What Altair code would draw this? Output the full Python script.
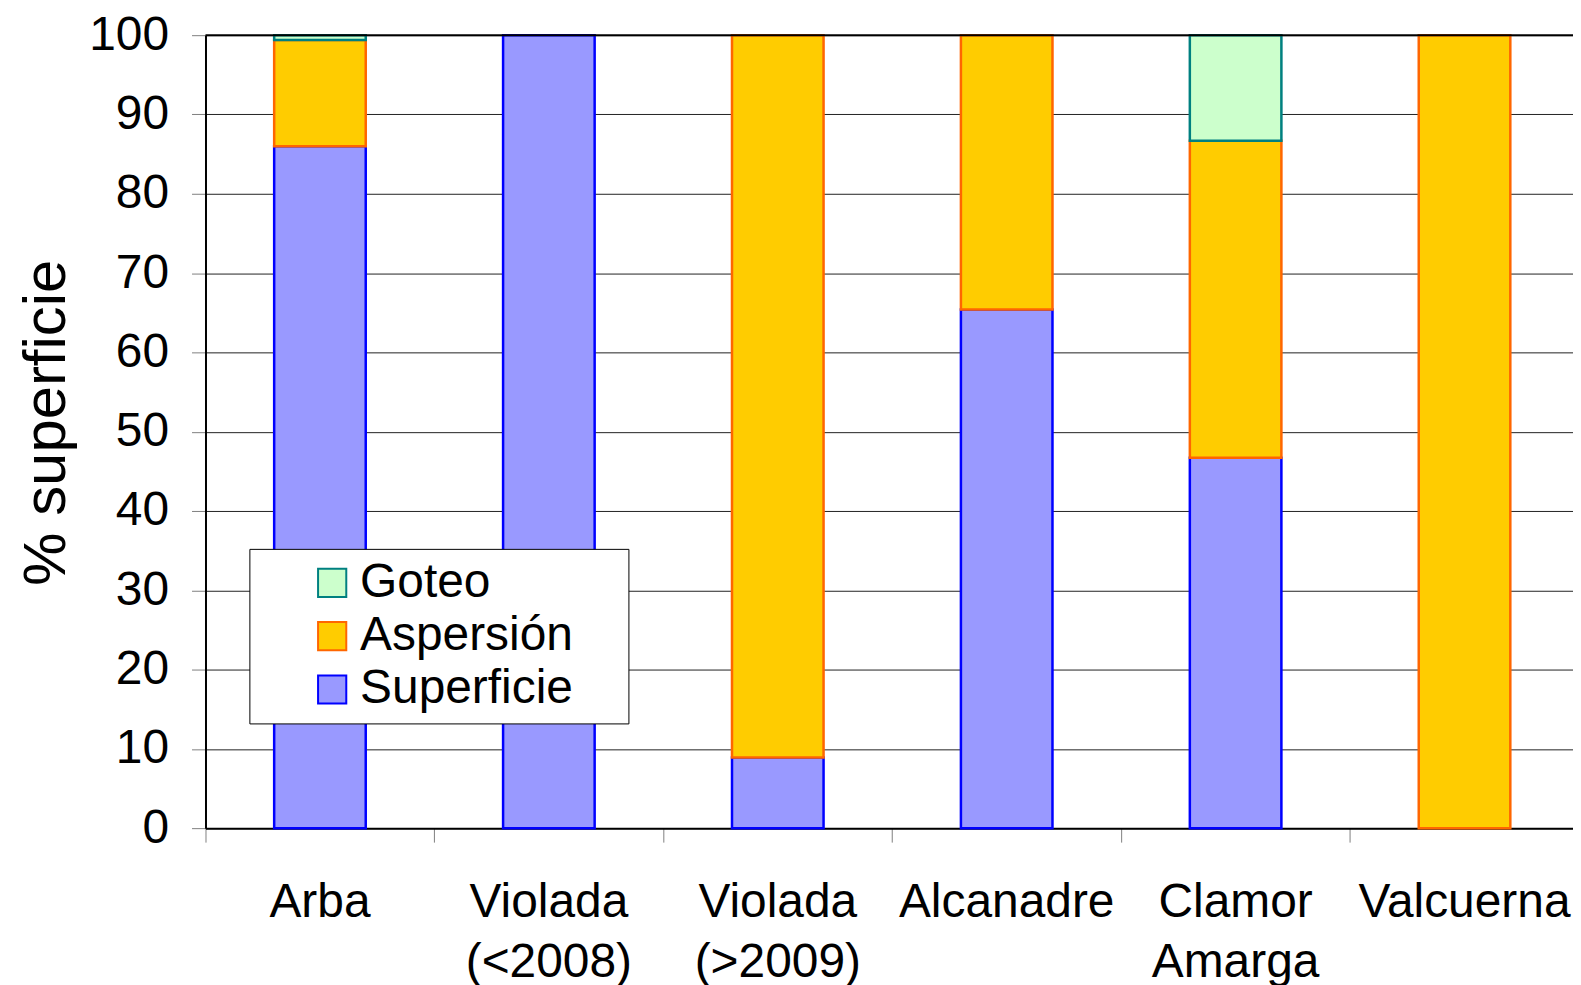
import altair as alt
import pandas as pd

# ---- data ----
categorias = ["Arba", "Violada\n(<2008)", "Violada\n(>2009)", "Alcanadre", "Clamor\nAmarga", "Valcuerna"]
superficie = [86.0, 100.0, 8.9, 65.4, 46.7, 0.0]
aspersion = [13.4, 0.0, 91.1, 34.6, 40.0, 100.0]
goteo = [0.6, 0.0, 0.0, 0.0, 13.3, 0.0]

series = ["Goteo", "Aspersión", "Superficie"]
rellenos = ["#CCFFCC", "#FFCC00", "#9999FF"]
bordes = ["#008080", "#FF6600", "#0000FF"]
y_ticks = [0, 10, 20, 30, 40, 50, 60, 70, 80, 90, 100]

rows = []
for serie, valores, orden in [("Superficie", superficie, 0), ("Aspersión", aspersion, 1), ("Goteo", goteo, 2)]:
    for c, v in zip(categorias, valores):
        if v > 0:
            rows.append({"zona": c, "serie": serie, "valor": v, "orden": orden})
df = pd.DataFrame(rows)

FONT = "Liberation Sans"
FS = 48

leg = alt.Legend(
    title="x",
    titleOrient="right",
    titleColor="white",
    titleFontSize=10,
    titlePadding=40,
    orient="none",
    legendX=44,
    legendY=515,
    fillColor="white",
    strokeColor="black",
    padding=10,
    symbolType="square",
    symbolSize=800,
    symbolStrokeWidth=2,
    symbolOffset=49,
    labelOffset=4,
    rowPadding=5.5,
    labelFont=FONT,
    labelFontSize=FS,
    labelColor="black",
    labelLimit=600,
)

bars = alt.Chart(df).mark_bar(width=alt.RelativeBandSize(0.4), strokeWidth=2.5).encode(
    x=alt.X(
        "zona:N",
        sort=categorias,
        scale=alt.Scale(paddingInner=0, paddingOuter=0, range=[0, 1377]),
        axis=alt.Axis(
            title=None,
            labelAngle=0,
            labelExpr="split(datum.label, '\\n')",
            labelLineHeight=60,
            labelFont=FONT,
            labelFontSize=FS,
            labelColor="black",
            labelPadding=37,
            bandPosition=0,
            tickSize=14,
            tickColor="#808080",
            tickWidth=1,
            domainColor="black",
            domainWidth=2,
            grid=False,
            labelLimit=600,
        ),
    ),
    y=alt.Y(
        "valor:Q",
        stack="zero",
        scale=alt.Scale(domain=[0, 100], nice=False),
        axis=alt.Axis(
            title="% superficie",
            values=y_ticks,
            labelFont=FONT,
            labelFontSize=FS,
            labelColor="black",
            labelPadding=23,
            tickSize=14,
            tickColor="#808080",
            tickWidth=1,
            domainColor="black",
            domainWidth=2,
            grid=True,
            gridColor="#222222",
            gridWidth=1,
            titleFont=FONT,
            titleFontSize=60,
            titleFontWeight="normal",
            titleColor="black",
            titleX=-159,
            titleY=388,
            titleAlign="center",
            titleBaseline="middle",
            titleAngle=270,
        ),
    ),
    fill=alt.Fill("serie:N", scale=alt.Scale(domain=series, range=rellenos), legend=leg),
    stroke=alt.Stroke("serie:N", scale=alt.Scale(domain=series, range=bordes), legend=leg),
    order=alt.Order("orden:Q", sort="ascending"),
)

top = alt.Chart(pd.DataFrame({"v": [y_ticks[-1]]})).mark_rule(color="black", strokeWidth=2).encode(
    y=alt.Y("v:Q")
)

chart = (
    alt.layer(bars, top)
    .properties(
        width=1371,
        height=795,
        padding={"left": 198, "top": 26, "right": 0, "bottom": 156},
        autosize=alt.AutoSizeParams(type="none"),
        background="white",
    )
    .configure_view(stroke=None)
)

chart.save("out.html", embed_options={"renderer": "svg", "actions": False})
